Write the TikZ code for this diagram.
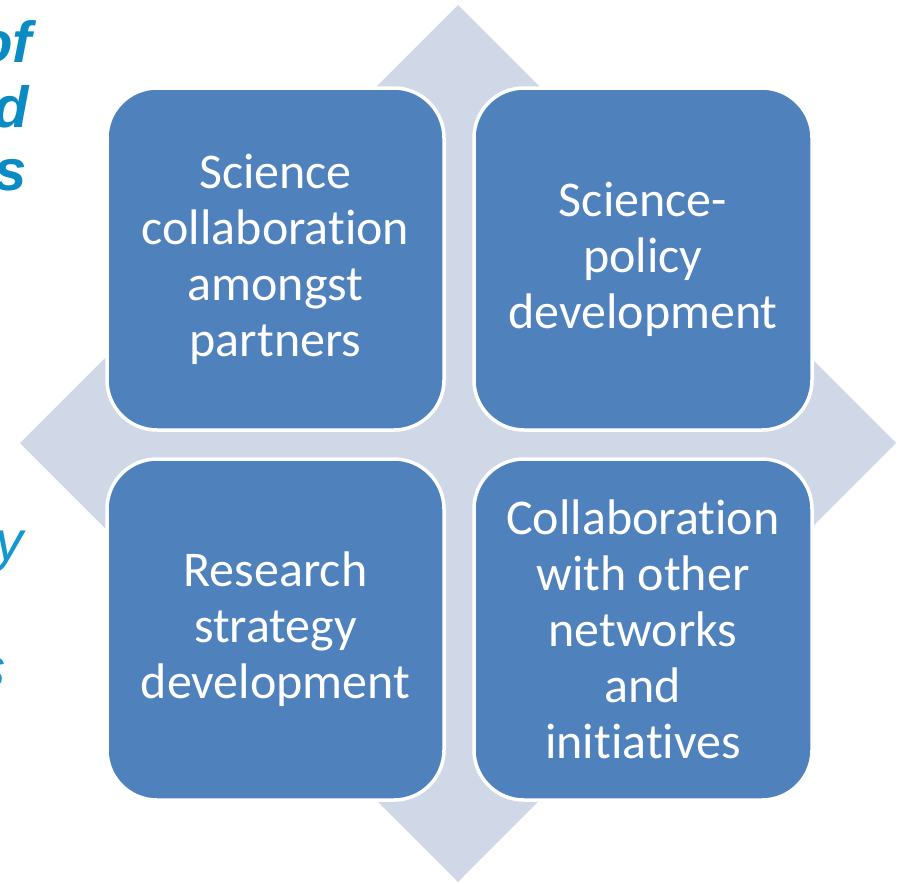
\documentclass[tikz,border=0pt]{standalone}
\usepackage{fontspec}
\setmainfont{Carlito}[Ligatures=NoCommon]
\newfontfamily\arialf{Liberation Sans}
\definecolor{boxblue}{HTML}{4F81BD}
\definecolor{diamondfill}{HTML}{D0D8E8}
\definecolor{sideblue}{HTML}{0A8BC4}
\definecolor{sidelight}{HTML}{1496D0}
\begin{document}
\begin{tikzpicture}[x=1pt,y=-1pt,
  tile/.style={draw=white,line width=3.5pt,fill=boxblue,rounded corners=50pt,
    text=white,align=center,inner sep=0pt,
    font=\fontsize{50}{56}\selectfont},
  sidebold/.style={anchor=base east,inner sep=0pt,text=sideblue,
    font=\arialf\bfseries\itshape\fontsize{58}{64}\selectfont},
  sidethin/.style={anchor=base east,inner sep=0pt,text=sidelight,
    font=\arialf\itshape\fontsize{56}{60}\selectfont}]
\useasboundingbox (0,0) rectangle (898,884);
\clip (0,0) rectangle (898,884);
% background diamond
\fill[diamondfill] (458,5) -- (896,443) -- (458,882) -- (20,443) -- cycle;
% tiles
\node[tile,minimum width=337pt,minimum height=342pt] (tl) at (275.5,259)
  {Science\\collaboration\\amongst\\partners};
\node[tile,minimum width=338pt,minimum height=342pt] (tr) at (643,259)
  {Science-\\policy\\development};
\node[tile,minimum width=337pt,minimum height=341pt] (bl) at (275.5,629.5)
  {Research\\strategy\\development};
\node[tile,minimum width=338pt,minimum height=341pt] (br) at (643,629.5)
  {Collaboration\\with other\\networks\\and\\initiatives};
% side text, cut off at the left edge as in the reference
\node[sidebold] (s1) at (32,62) {of};
\node[sidebold] (s2) at (29,127) {d};
\node[sidebold] (s3) at (27,190) {rs};
\node[sidethin] (s4) at (24,560) {y};
\node[sidethin] (s5) at (6,687) {s};
\end{tikzpicture}
\end{document}
